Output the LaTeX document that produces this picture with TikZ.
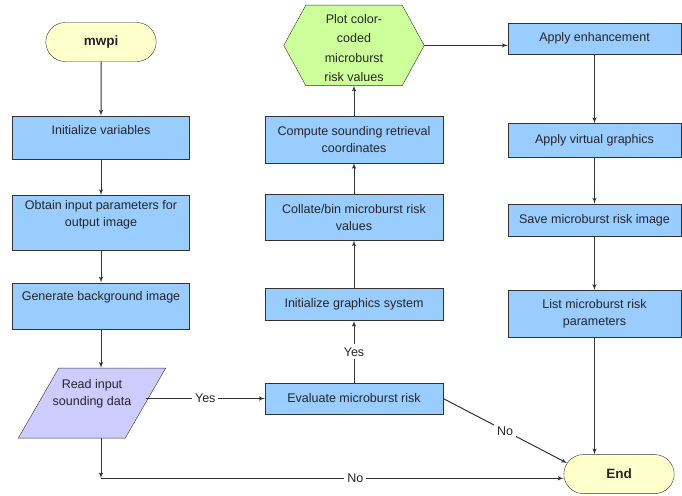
\documentclass[tikz,border=0pt]{standalone}
\usepackage{fontspec}
\setmainfont{Liberation Sans}
\usetikzlibrary{shapes,arrows,positioning,backgrounds}
\definecolor{boxblue}{HTML}{99CCFF}
\definecolor{termyellow}{HTML}{FFFFCC}
\definecolor{iolilac}{HTML}{CCCCFF}
\definecolor{hexgreen}{HTML}{CCFF99}
\definecolor{edgegray}{HTML}{333333}

\begin{document}
\begin{tikzpicture}[
    x=1pt, y=-1pt,
    node distance=30pt,
    every node/.style={font=\fontsize{12.5}{17}\selectfont, text=black!85},
    process/.style={rectangle, draw=edgegray, fill=boxblue, align=center, inner sep=0pt},
    leftbox/.style={process, minimum width=177pt},
    midbox/.style={process, minimum width=178pt},
    rightbox/.style={process, minimum width=173pt},
    terminal/.style={rounded rectangle, draw=edgegray, fill=termyellow, minimum width=117pt, minimum height=39pt, font=\fontsize{13.5}{15}\selectfont\bfseries},
    io/.style={trapezium, trapezium left angle=60, trapezium right angle=120, trapezium stretches=true, draw=edgegray, fill=iolilac, align=center, inner ysep=0pt, inner xsep=-6pt},
    display/.style={align=center, inner sep=0pt, minimum width=140pt, minimum height=80pt, text height=76.5pt, text depth=3.5pt, font=\fontsize{12.5}{19.5}\selectfont},
    line/.style={draw=edgegray, line width=1pt, -latex'},
    answer/.style={fill=white, inner sep=3pt}
  ]
    \useasboundingbox (0,0) rectangle (682,495);

    % input side
    \node [terminal] (mwpi) at (101,42) {mwpi};
    \node [leftbox, text height=18.5pt, text depth=24.5pt, below=54pt of mwpi] (initvars) {Initialize variables};
    \node [leftbox, text height=31.5pt, text depth=23.5pt, below=36pt of initvars] (obtain) {Obtain input parameters for\\output image};
    \node [leftbox, text height=17.5pt, text depth=28.5pt, below=32pt of obtain] (genbg) {Generate background image};
    \node [io, text height=37.5pt, text depth=32.5pt, below=39pt of genbg, xshift=-9pt] (readdata) {Read input\\sounding data};
    \coordinate (noturn) at ([yshift=-40pt]readdata.south -| genbg.south);

    % risk column
    \node [midbox, minimum height=31pt] (evalrisk) at (354,398.5) {Evaluate microburst risk};
    \node [midbox, minimum height=32pt, above=62pt of evalrisk] (initgfx) {Initialize graphics system};
    \node [midbox, minimum height=46pt, above=48pt of initgfx] (collate) {Collate/bin microburst risk\\values};
    \node [midbox, minimum height=47pt, above=31pt of collate] (compute) {Compute sounding retrieval\\coordinates};
    \node [display, above=30pt of compute] (plotrisk) {Plot color-\\coded\\microburst\\risk values};
    \begin{scope}[on background layer]
      \draw [draw=edgegray, fill=hexgreen] (plotrisk.west) -- ([xshift=22pt]plotrisk.north west) -- ([xshift=-22pt]plotrisk.north east) -- (plotrisk.east) -- ([xshift=-22pt]plotrisk.south east) -- ([xshift=22pt]plotrisk.south west) -- cycle;
    \end{scope}

    % output side
    \node [rightbox, minimum height=31pt] (enhance) at (594.5,38.5) {Apply enhancement};
    \node [rightbox, minimum height=34pt, below=69pt of enhance] (virtual) {Apply virtual graphics};
    \node [rightbox, minimum height=32pt, below=46pt of virtual] (saveimg) {Save microburst risk image};
    \node [rightbox, minimum height=47pt, below=54pt of saveimg] (listpar) {List microburst risk\\parameters};
    \node [terminal, below=117pt of listpar, xshift=24.5pt] (finish) {End};

    \path [line] (mwpi) -- (initvars);
    \path [line] (initvars) -- (obtain);
    \path [line] (obtain) -- (genbg);
    \path [line] (genbg.south) -- (genbg.south |- readdata.north);
    \path [line] (readdata.south -| genbg.south) -- (noturn);
    \path [line] (noturn) -- node [answer, pos=0.55] {No} (noturn -| finish.west);
    \path [line] (readdata.east |- evalrisk.west) -- node [answer] {Yes} (evalrisk.west);

    \path [line] (evalrisk) -- node [answer] {Yes} (initgfx);
    \path [line] (initgfx) -- (collate);
    \path [line] (collate) -- (compute);
    \path [line] (compute) -- (plotrisk);
    \path [line] (plotrisk.east) -- (plotrisk.east -| enhance.west);

    \path [line] (enhance) -- (virtual);
    \path [line] (virtual) -- (saveimg);
    \path [line] (saveimg) -- (listpar);
    \path [line] (listpar.south) -- (listpar.south |- finish.north);
    \path [line] (evalrisk.east) -- node [answer] {No} (finish.168);
\end{tikzpicture}
\end{document}
